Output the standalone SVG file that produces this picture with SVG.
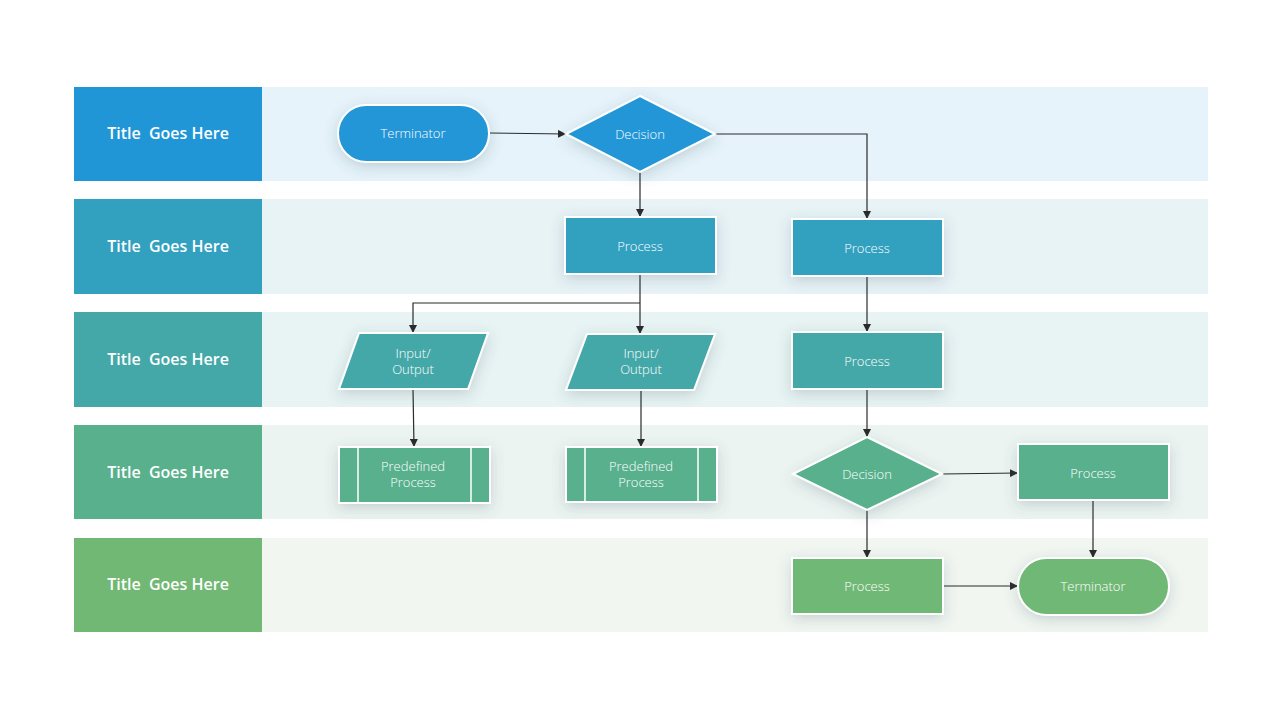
<svg xmlns="http://www.w3.org/2000/svg" width="1280" height="720" viewBox="0 0 1280 720">
<defs>
<filter id="sh" x="-30%" y="-40%" width="160%" height="190%">
<feDropShadow dx="0" dy="4" stdDeviation="7" flood-color="#3a5566" flood-opacity="0.22"/>
</filter>
<marker id="ar" viewBox="0 0 10 10" refX="10" refY="5" markerWidth="8" markerHeight="8" markerUnits="userSpaceOnUse" orient="auto">
<path d="M0,0 L10,5 L0,10 z" fill="#2b2b2b"/>
</marker>
<style>
.hd{font-family:"Open Sans","Liberation Sans",sans-serif;font-weight:600;font-size:16px;fill:#ffffff;text-anchor:middle;white-space:pre}
.nt{font-family:"Open Sans","Liberation Sans",sans-serif;font-weight:300;font-size:13px;fill:#ffffff;text-anchor:middle}
.nd{stroke:#ffffff;stroke-width:2;filter:url(#sh)}
.cn{fill:none;stroke:#2b2b2b;stroke-width:1.2;marker-end:url(#ar)}
.ln{fill:none;stroke:#2b2b2b;stroke-width:1.2}
.c1{fill:#2196d6}.c2{fill:#32a0bf}.c3{fill:#44a8a8}.c4{fill:#59b08d}.c5{fill:#70b874}
</style>
</defs>
<rect width="1280" height="720" fill="#ffffff"/>
<g id="lanes">
<rect x="74" y="87" width="1134" height="94" fill="#e6f3fa"/>
<rect x="74" y="199" width="1134" height="95" fill="#e8f3f6"/>
<rect x="74" y="312" width="1134" height="95" fill="#e8f3f3"/>
<rect x="74" y="425" width="1134" height="94" fill="#ecf4f1"/>
<rect x="74" y="538" width="1134" height="94" fill="#f1f6f1"/>
</g>
<g id="header1"><rect x="74" y="87" width="188" height="94" class="c1"/><text x="168" y="139" class="hd" xml:space="preserve">Title  Goes Here</text></g>
<g id="header2"><rect x="74" y="199" width="188" height="95" class="c2"/><text x="168" y="252" class="hd" xml:space="preserve">Title  Goes Here</text></g>
<g id="header3"><rect x="74" y="312" width="188" height="95" class="c3"/><text x="168" y="365" class="hd" xml:space="preserve">Title  Goes Here</text></g>
<g id="header4"><rect x="74" y="425" width="188" height="94" class="c4"/><text x="168" y="478" class="hd" xml:space="preserve">Title  Goes Here</text></g>
<g id="header5"><rect x="74" y="538" width="188" height="94" class="c5"/><text x="168" y="590" class="hd" xml:space="preserve">Title  Goes Here</text></g>
<g id="connectors">
<path class="cn" d="M489,133 L566,134"/>
<path class="cn" d="M640,172 L640,217"/>
<path class="cn" d="M715,134 L867,134 L867,219"/>
<path class="ln" d="M640,274 L640,303"/>
<path class="cn" d="M640,303 L413,303 L413,333"/>
<path class="cn" d="M640,303 L640,334"/>
<path class="cn" d="M867,276 L867,332"/>
<path class="cn" d="M413,389 L414,447"/>
<path class="cn" d="M641,390 L641,447"/>
<path class="cn" d="M867,389 L867,437"/>
<path class="cn" d="M942,474 L1018,473"/>
<path class="cn" d="M867,510 L867,558"/>
<path class="cn" d="M1093,500 L1093,558"/>
<path class="cn" d="M943,586 L1018,586"/>
</g>
<g id="terminator1"><rect x="338" y="105" width="151" height="57" rx="28.5" class="nd c1"/><text x="413" y="138" class="nt">Terminator</text></g>
<g id="decision1"><polygon points="640,96 715,134 640,172 566,134" class="nd c1"/><text x="640" y="139" class="nt">Decision</text></g>
<g id="process1"><rect x="565" y="217" width="151" height="57" class="nd c2"/><text x="640" y="251" class="nt">Process</text></g>
<g id="process2"><rect x="792" y="219" width="151" height="57" class="nd c2"/><text x="867" y="253" class="nt">Process</text></g>
<g id="io1"><polygon points="359,333 488,333 468,389 339,389" class="nd c3"/><text x="413" y="358" class="nt">Input/</text><text x="413" y="374" class="nt">Output</text></g>
<g id="io2"><polygon points="587,334 715,334 694,390 566,390" class="nd c3"/><text x="641" y="358" class="nt">Input/</text><text x="641" y="374" class="nt">Output</text></g>
<g id="process3"><rect x="792" y="332" width="151" height="57" class="nd c3"/><text x="867" y="366" class="nt">Process</text></g>
<g id="predefined1"><rect x="339" y="447" width="151" height="56" class="nd c4"/><path d="M358,447 V503 M471,447 V503" stroke="#ffffff" stroke-width="1.5"/><text x="413" y="471" class="nt">Predefined</text><text x="413" y="487" class="nt">Process</text></g>
<g id="predefined2"><rect x="566" y="447" width="151" height="55" class="nd c4"/><path d="M585,447 V502 M698,447 V502" stroke="#ffffff" stroke-width="1.5"/><text x="641" y="471" class="nt">Predefined</text><text x="641" y="487" class="nt">Process</text></g>
<g id="decision2"><polygon points="867,437 942,474 867,510 793,474" class="nd c4"/><text x="867" y="479" class="nt">Decision</text></g>
<g id="process4"><rect x="1018" y="444" width="151" height="56" class="nd c4"/><text x="1093" y="478" class="nt">Process</text></g>
<g id="process5"><rect x="792" y="558" width="151" height="56" class="nd c5"/><text x="867" y="591" class="nt">Process</text></g>
<g id="terminator2"><rect x="1018" y="558" width="151" height="57" rx="28.5" class="nd c5"/><text x="1093" y="591" class="nt">Terminator</text></g>
</svg>
